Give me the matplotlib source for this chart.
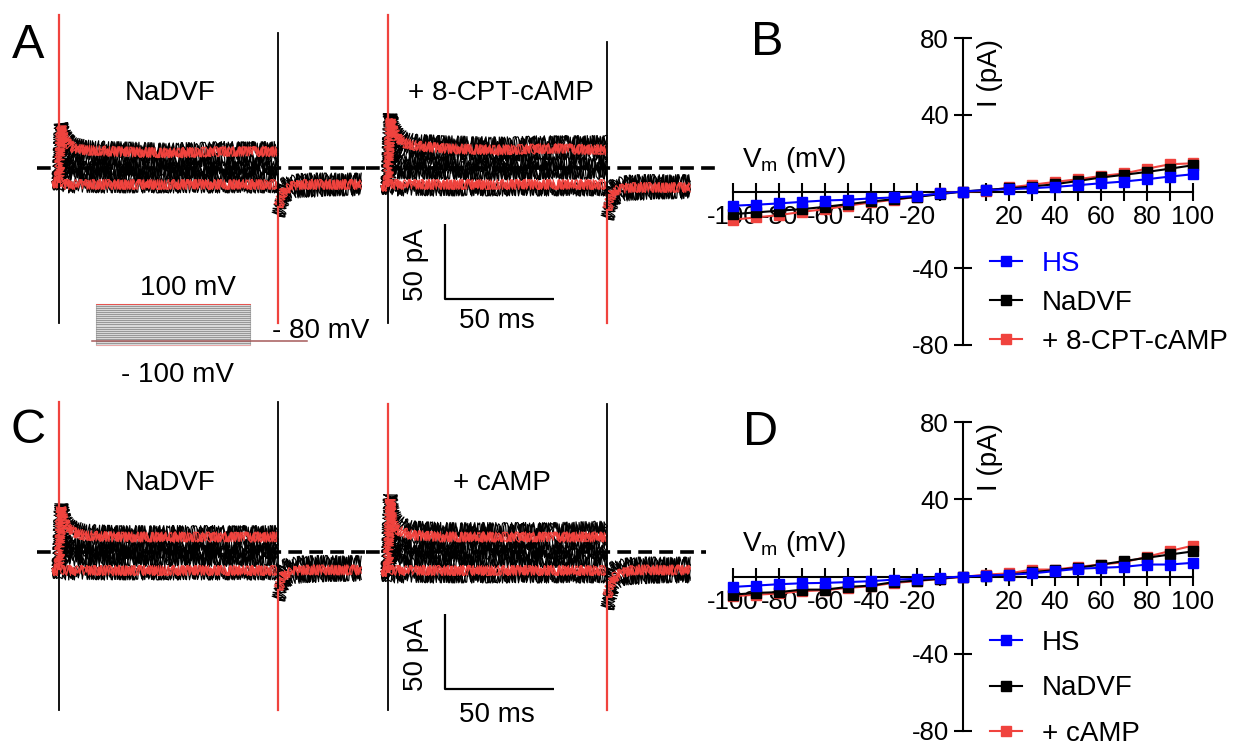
import matplotlib
matplotlib.use('Agg')
import matplotlib.pyplot as plt

plt.rcParams['font.family'] = ['Liberation Sans', 'DejaVu Sans']
plt.rcParams['mathtext.fontset'] = 'custom'
plt.rcParams['mathtext.rm'] = 'Liberation Sans'
plt.rcParams['axes.unicode_minus'] = False

W, H = 1247, 746
RED = '#f0433e'
BLUE = '#0000ff'

# ---- I-V data (pA) ----
vm = [-100, -90, -80, -70, -60, -50, -40, -30, -20, -10, 0,
      10, 20, 30, 40, 50, 60, 70, 80, 90, 100]
b_hs = [-7.4, -6.9, -6.2, -5.4, -4.7, -4.3, -3.6, -3.1, -2.3, -1.0, 0,
        0.7, 1.2, 1.7, 2.4, 3.3, 4.3, 5.2, 6.4, 7.8, 9.0]
b_nadvf = [-11.8, -10.9, -10.0, -9.2, -8.0, -6.6, -5.2, -4.0, -2.8, -1.4, 0,
           0.9, 1.6, 2.6, 3.8, 5.5, 7.3, 8.7, 10.2, 11.9, 13.7]
b_cpt = [-14.7, -13.5, -12.3, -10.6, -9.2, -7.4, -5.7, -4.3, -2.8, -1.0, 0,
         0.3, 2.1, 3.5, 5.0, 6.4, 8.1, 9.4, 11.9, 14.2, 14.7]
d_hs = [-5.4, -4.7, -4.0, -3.5, -3.3, -2.9, -2.4, -1.6, -1.2, -0.7, 0,
        0.5, 0.9, 1.6, 2.8, 4.0, 4.5, 5.0, 6.2, 6.2, 7.1]
d_nadvf = [-9.4, -8.5, -8.1, -6.8, -6.8, -5.4, -4.7, -2.9, -2.1, -1.2, 0,
           0.2, 1.0, 2.3, 3.3, 4.5, 6.2, 8.0, 9.7, 11.4, 13.0]
d_camp = [-10.2, -9.4, -8.8, -7.6, -7.1, -5.9, -5.0, -3.3, -2.4, -1.2, -0.2,
          1.0, 1.6, 3.6, 3.6, 5.0, 6.2, 7.4, 10.2, 13.2, 16.0]

# ---- current traces (ms, pA), mean level of each sweep ----
t_step = [-3, 0, 1, 2, 4, 7, 12, 25, 50, 75, 100]
t_tail = [100, 101, 102, 104, 107, 112, 125, 138]

a1_black = [[-9, -9, 30, 24, 19, 16, 14, 13, 12, 13, 13],
            [-9, -9, 18, 12, 9, 7, 6, 6, 5, 6, 6],
            [-9, -9, 6, 3, 1, 0, 0, 0, -1, 0, 0],
            [-9, -9, -3, -4, -5, -5, -5, -5, -6, -5, -5],
            [-10, -10, -11, -11, -12, -12, -12, -12, -12, -12, -12]]
a1_red = [[-9, -9, 28, 22, 16, 13, 12, 11, 10, 11, 11],
          [-10, -10, -10, -11, -11, -11, -11, -11, -11, -11, -11]]
a1_tail_black = [[-18, -15, -12, -10, -9, -8, -8, -8],
                 [-32, -27, -22, -18, -16, -15, -14, -14]]
a1_tail_red = [-26, -22, -17, -14, -12, -11, -11, -11]
a1_spikes = [102, -103, 90, -103]

a2_black = [[-12, -12, 36, 29, 24, 20, 18, 17, 16, 17, 17],
            [-12, -12, 22, 16, 13, 11, 10, 10, 9, 10, 10],
            [-12, -12, 10, 6, 4, 3, 3, 3, 2, 3, 3],
            [-12, -12, 0, -2, -3, -3, -3, -3, -4, -3, -3],
            [-13, -13, -13, -13, -14, -14, -14, -14, -14, -14, -14]]
a2_red = [[-12, -12, 33, 27, 21, 17, 15, 13, 12, 13, 12],
          [-12, -12, -11, -11, -11, -11, -11, -11, -11, -11, -11]]
a2_tail_black = [[-20, -16, -13, -11, -10, -9, -9, -9],
                 [-34, -29, -24, -20, -18, -17, -16, -16]]
a2_tail_red = [-28, -23, -18, -15, -14, -13, -13, -13]
a2_spikes = [102, -103, 84, -103]

c1_black = [[-11, -11, 32, 24, 19, 16, 14, 13, 13, 13, 13],
            [-11, -11, 14, 9, 6, 5, 5, 5, 5, 5, 5],
            [-11, -11, 5, 2, 1, 0, 0, 0, 0, 0, 0],
            [-11, -11, -4, -5, -5, -5, -5, -5, -5, -5, -5],
            [-13, -13, -14, -14, -14, -14, -14, -14, -14, -14, -14]]
c1_red = [[-11, -11, 30, 21, 16, 13, 11, 10, 10, 10, 10],
          [-12, -12, -12, -12, -12, -12, -12, -12, -12, -12, -12]]
c1_tail_black = [[-16, -13, -10, -9, -8, -7, -7, -7],
                 [-32, -27, -22, -19, -17, -16, -15, -15]]
c1_tail_red = [-25, -21, -17, -14, -13, -12, -12, -12]
c1_spikes = [100, -105, 100, -105]

c2_black = [[-13, -13, 38, 27, 21, 18, 16, 15, 15, 15, 16],
            [-13, -13, 16, 10, 7, 6, 6, 6, 6, 6, 6],
            [-13, -13, 5, 2, 1, 0, 0, 0, 0, 0, 0],
            [-13, -13, -4, -5, -6, -6, -6, -6, -6, -6, -6],
            [-15, -15, -16, -16, -16, -16, -16, -16, -16, -16, -16]]
c2_red = [[-13, -13, 35, 20, 15, 13, 11, 10, 10, 10, 10],
          [-12, -12, -12, -12, -12, -12, -12, -12, -12, -12, -12]]
c2_tail_black = [[-18, -15, -12, -10, -9, -8, -8, -8],
                 [-38, -32, -26, -21, -18, -17, -16, -16]]
c2_tail_red = [-30, -25, -20, -16, -14, -12, -12, -12]
c2_spikes = [99, -105, 99, -105]

# voltage protocol (mV)
prot_levels = [-100, -90, -80, -70, -60, -50, -40, -30, -20, -10, 0,
               10, 20, 30, 40, 50, 60, 70, 80, 90, 100]
hold_mv = -80

fig = plt.figure(figsize=(W / 100, H / 100), dpi=100)


def px_axes(x0, y0, x1, y1):
    return fig.add_axes([x0 / W, 1 - y1 / H, (x1 - x0) / W, (y1 - y0) / H])


def px_text(x, y, s, **kw):
    kw.setdefault('fontsize', 20)
    fig.text(x / W, 1 - y / H, s, **kw)


MS_PX, PA_PX = 2.19, 1.5


def trace_axes(t0_px, zero_px, tmax):
    ax = px_axes(t0_px - 10 * MS_PX, zero_px - 112 * PA_PX,
                 t0_px + tmax * MS_PX, zero_px + 115 * PA_PX)
    ax.set_xlim(-10, tmax)
    ax.set_ylim(-115, 112)
    ax.axis('off')
    return ax


def noisy(ax, t, y, color, amp):
    # recording noise look: matplotlib's path sketch filter, a few passes
    for wl in (0.6, 1.0, 1.7):
        ln, = ax.plot(t, y, color=color, lw=0.85, zorder=2 if color == 'k' else 3)
        ln.set_sketch_params(float(amp), wl, 6.0)


def draw_trace(ax, black, red, tail_black, tail_red, spikes):
    ax.axhline(0, color='k', lw=2.6, ls=(0, (3.8, 2.0)), zorder=1)
    for s in black:
        noisy(ax, t_step, s, 'k', 7)
    for s in tail_black:
        noisy(ax, t_tail, s, 'k', 7)
    for s in red:
        noisy(ax, t_step, s, RED, 5)
    noisy(ax, t_tail, tail_red, RED, 5)
    up0, dn0, up1, dn1 = spikes
    pre = black[0][0]
    ax.plot([0, 0], [pre, dn0], color='k', lw=1.3, zorder=4)
    ax.plot([100, 100], [tail_red[0], up1], color='k', lw=1.3, zorder=4)
    ax.plot([0, 0], [pre, up0], color=RED, lw=1.6, zorder=5)
    ax.plot([100, 100], [tail_red[0], dn1], color=RED, lw=1.6, zorder=5)


ax_a1 = trace_axes(59, 168, 140)
draw_trace(ax_a1, a1_black, a1_red, a1_tail_black, a1_tail_red, a1_spikes)
ax_a2 = trace_axes(388, 168, 150)
draw_trace(ax_a2, a2_black, a2_red, a2_tail_black, a2_tail_red, a2_spikes)
ax_c1 = trace_axes(59, 552, 140)
draw_trace(ax_c1, c1_black, c1_red, c1_tail_black, c1_tail_red, c1_spikes)
ax_c2 = trace_axes(388, 552, 145)
draw_trace(ax_c2, c2_black, c2_red, c2_tail_black, c2_tail_red, c2_spikes)

# scale bars (50 ms, 50 pA)
for ax, top in ((ax_a2, -37), (ax_c2, -41)):
    ax.plot([26, 26, 76], [top, top - 50, top - 50], color='k', lw=1.6,
            solid_capstyle='butt', zorder=6)

px_text(170, 100, 'NaDVF', ha='center', va='baseline')
px_text(501, 100, '+ 8-CPT-cAMP', ha='center', va='baseline')
px_text(170, 490, 'NaDVF', ha='center', va='baseline')
px_text(502, 490, '+ cAMP', ha='center', va='baseline')
for y_bar, y_ms in ((265, 328), (655, 722)):
    px_text(416, y_bar, '50 pA', ha='center', va='center', rotation=90)
    px_text(497, y_ms, '50 ms', ha='center', va='baseline')

# voltage protocol inset
ax_p = px_axes(80, 295, 320, 355)
ax_p.set_xlim(-10.2, 145.4)
ax_p.set_ylim(-148.8, 143.9)
ax_p.axis('off')
ax_p.fill_between([0, 100], -100, 100, color='#d8d8d8', ec='#b4b4b4', lw=0.8, zorder=1)
for v in prot_levels:
    c = RED if v == 100 else ('#f3a5a5' if v == -100 else '#8c8c8c')
    ax_p.plot([0, 100], [v, v], color=c, lw=0.6, zorder=2)
ax_p.plot([-2.4, 137], [hold_mv, hold_mv], color='#a55a5a', lw=1.1, zorder=3)
px_text(188, 295, '100 mV', ha='center', va='baseline')
px_text(272, 338, '- 80 mV', ha='left', va='baseline')
px_text(177, 382, '- 100 mV', ha='center', va='baseline')


# ---- I-V panels ----
def iv_axes(y_top, y_bot, hs, nadvf, drug, drug_label, spacing, leg_top, hs_blue):
    ax = px_axes(733, y_top, 1193, y_bot)
    ax.set_xlim(-100, 100)
    ax.set_ylim(-80, 80)
    for side in ('top', 'right'):
        ax.spines[side].set_visible(False)
    for side in ('left', 'bottom'):
        ax.spines[side].set_position(('data', 0))
        ax.spines[side].set_linewidth(1.5)
    ax.set_xticks([-100, -80, -60, -40, -20, 20, 40, 60, 80, 100])
    ax.set_xticks([-90, -70, -50, -30, -10, 10, 30, 50, 70, 90], minor=True)
    ax.set_yticks([-80, -40, 40, 80])
    ax.tick_params(which='both', direction='inout', length=13, width=1.5,
                   labelsize=18.5, pad=3.5)
    ax.patch.set_visible(False)
    lr, = ax.plot(vm, drug, color=RED, lw=1.5, marker='s', ms=6.5,
                  clip_on=False, zorder=3)
    lk, = ax.plot(vm, nadvf, color='k', lw=1.5, marker='s', ms=6.5,
                  clip_on=False, zorder=4)
    lb, = ax.plot(vm, hs, color=BLUE, lw=1.5, marker='s', ms=6.5,
                  clip_on=False, zorder=5)
    leg = ax.legend([lb, lk, lr], ['HS', 'NaDVF', drug_label], frameon=False,
                    fontsize=20, loc='upper left', handlelength=1.15,
                    handletextpad=0.72, labelspacing=spacing, borderpad=0,
                    borderaxespad=0, bbox_transform=fig.transFigure,
                    bbox_to_anchor=(990 / W, 1 - leg_top / H))
    if hs_blue:
        leg.get_texts()[0].set_color(BLUE)
    return ax


iv_axes(38, 345, b_hs, b_nadvf, b_cpt, '+ 8-CPT-cAMP', 0.47, 251, True)
iv_axes(422, 731, d_hs, d_nadvf, d_camp, '+ cAMP', 0.7, 630, False)

for y0 in (0, 384):
    px_text(742, 160 + y0, r'$\mathregular{V_m}$ (mV)', ha='left', va='center')
    px_text(990, 73 + y0, 'I (pA)', ha='center', va='center', rotation=90)

px_text(28, 58, 'A', fontsize=35, ha='center', va='baseline')
px_text(767, 55, 'B', fontsize=35, ha='center', va='baseline')
px_text(28, 443, 'C', fontsize=35, ha='center', va='baseline')
px_text(761, 445, 'D', fontsize=35, ha='center', va='baseline')

fig.savefig('out.png', dpi=100)
